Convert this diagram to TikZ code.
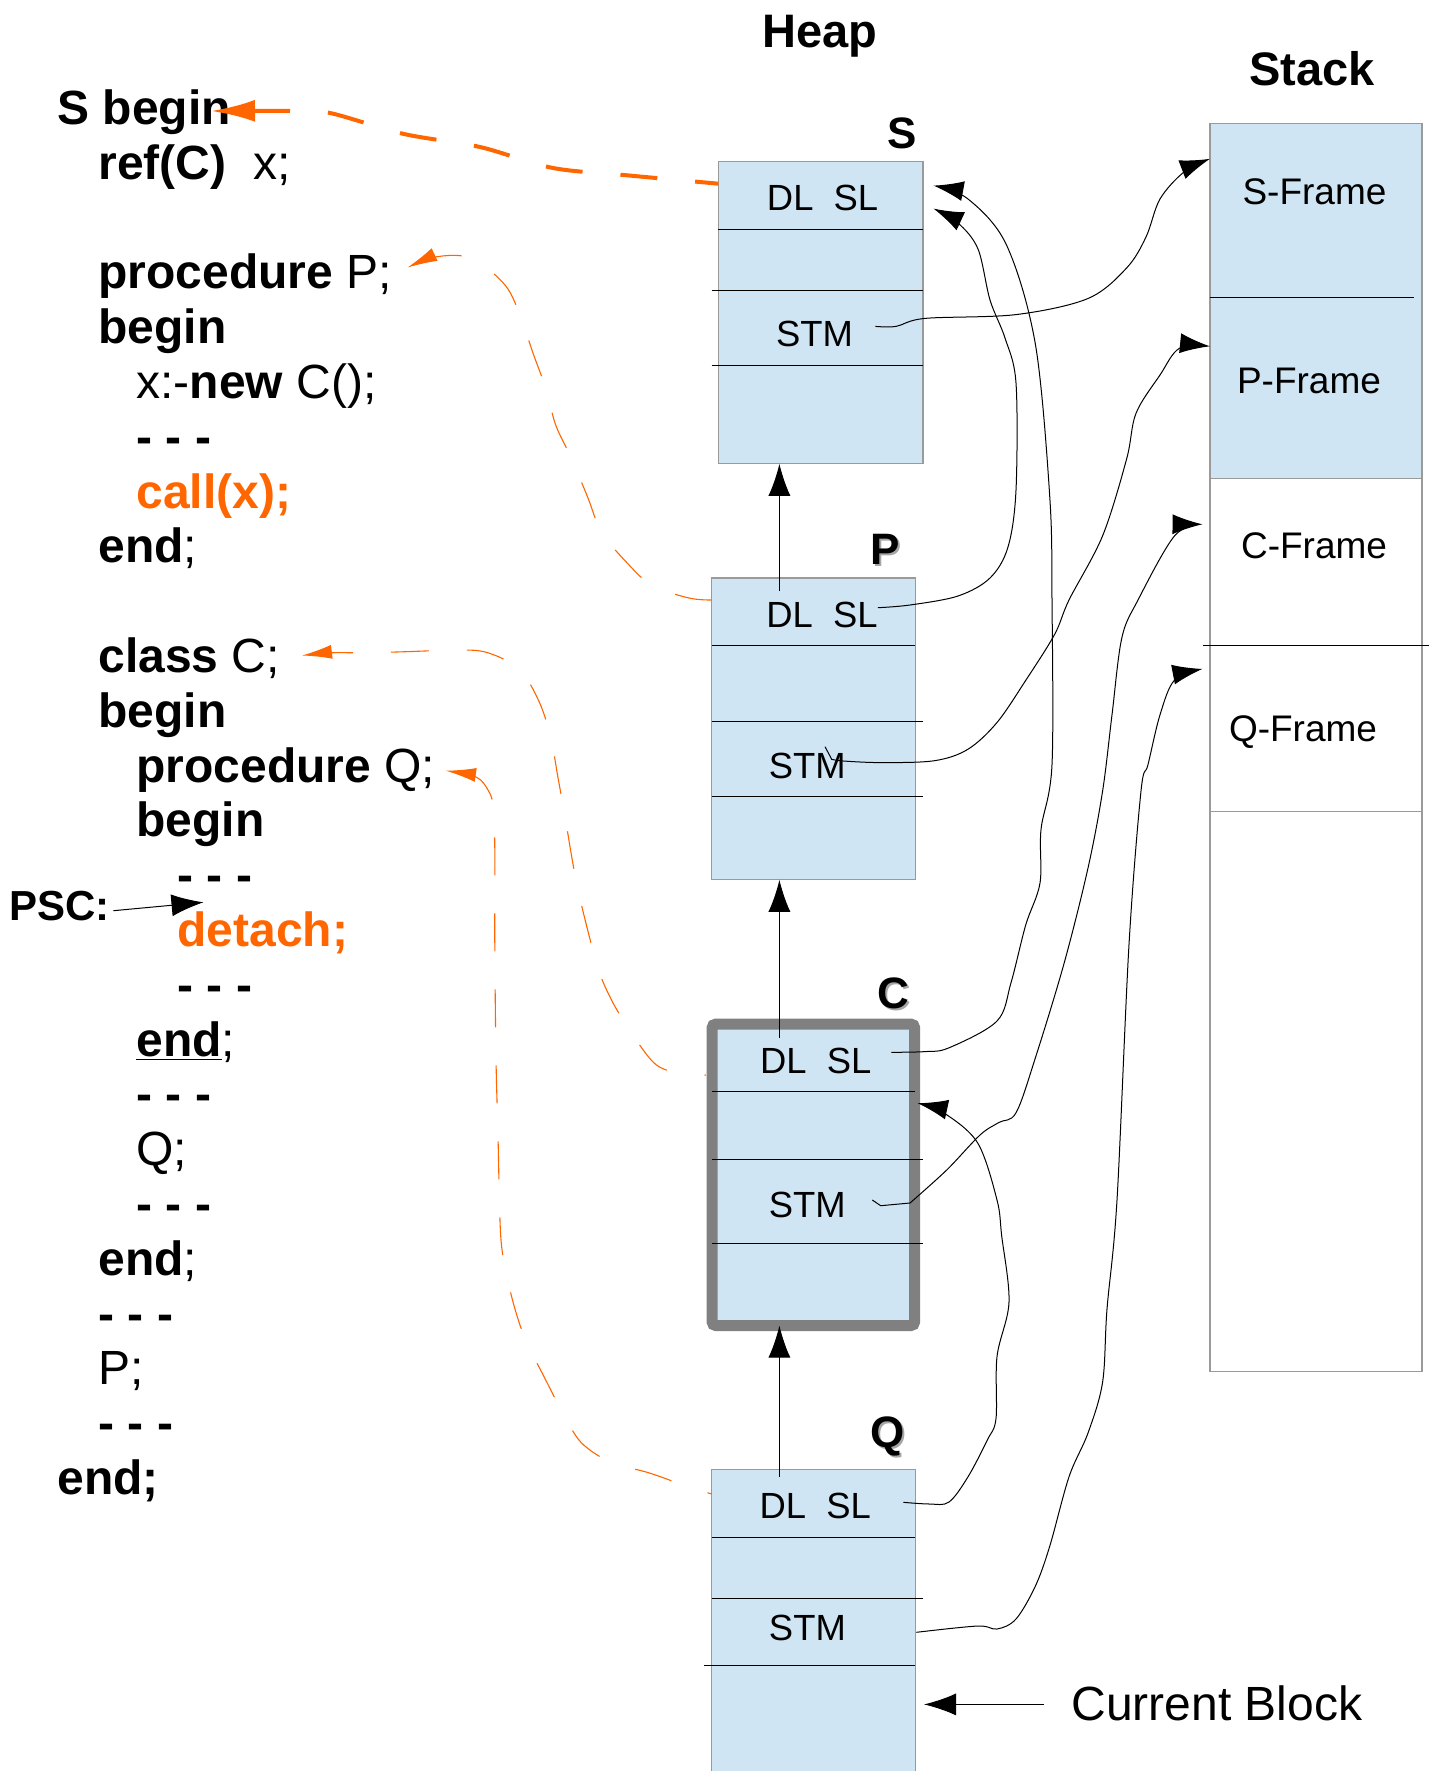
\documentclass[tikz,border=0pt]{standalone}
\usepackage{fontspec}
\setmainfont{Liberation Sans}
\usetikzlibrary{arrows.meta}
\definecolor{orng}{HTML}{FF6600}
\definecolor{boxblue}{HTML}{CFE5F3}
\definecolor{cgray}{HTML}{808080}
\definecolor{lgray}{HTML}{9A9A9A}
\begin{document}
\begin{tikzpicture}[x=0.5pt,y=-0.5pt,
  code/.style={anchor=base west,inner sep=0pt,font=\fontsize{24}{28}\selectfont},
  lbl/.style={anchor=base,inner sep=0pt,font=\fontsize{18.2}{22}\selectfont},
  ttl/.style={anchor=base,inner sep=0pt,font=\bfseries\fontsize{23.5}{28}\selectfont},
  boxlbl/.style={anchor=base,inner sep=0pt,font=\bfseries\fontsize{22}{26}\selectfont},
  shadowlbl/.style={boxlbl,text=black!35},
  heapbox/.style={draw=lgray,fill=boxblue,line width=0.6pt,inner sep=0pt,outer sep=0pt},
  rule/.style={draw=black,line width=0.5pt},
  link/.style={draw=black,line width=0.5pt,-{Latex[length=15pt,width=10pt]}},
  bigarr/.style={draw=black,line width=0.5pt,-{Latex[length=16pt,width=11pt]}},
  odash/.style={draw=orng,line width=0.55pt,dash pattern=on 19pt off 19pt,{Latex[length=15pt,width=7pt]}-},
  othick/.style={draw=orng,line width=2pt,dash pattern=on 18.5pt off 19pt,{Latex[length=22pt,width=11pt]}-}
]
\useasboundingbox (0,0) rectangle (1433,1771);

% ---------- code ----------
\node[code] (c0)  at (57,124.4)  {\textbf{S begin}};
\node[code] (c1)  at (98,179.2)  {\textbf{ref(C)}\ \ x;};
\node[code] (c3)  at (98,288.8)  {\textbf{procedure} P;};
\node[code] (c4)  at (98,343.6)  {\textbf{begin}};
\node[code] (c5)  at (136,398.4) {x:-\textbf{new} C();};
\node[code] (c6)  at (136,453.2) {\textbf{- - -}};
\node[code] (c7)  at (136,508.0) {\textcolor{orng}{\textbf{call(x);}}};
\node[code] (c8)  at (98,562.8)  {\textbf{end};};
\node[code] (c10) at (98,672.4)  {\textbf{class} C;};
\node[code] (c11) at (98,727.2)  {\textbf{begin}};
\node[code] (c12) at (136,782.0) {\textbf{procedure} Q;};
\node[code] (c13) at (136,836.8) {\textbf{begin}};
\node[code] (c14) at (177,891.6) {\textbf{- - -}};
\node[code] (c15) at (177,946.4) {\textcolor{orng}{\textbf{detach;}}};
\node[code] (c16) at (177,1001.2) {\textbf{- - -}};
\node[code] (c17) at (136,1056.0) {\underline{\textbf{end}};};
\node[code] (c18) at (136,1110.8) {\textbf{- - -}};
\node[code] (c19) at (136,1165.6) {Q;};
\node[code] (c20) at (136,1220.4) {\textbf{- - -}};
\node[code] (c21) at (98,1275.2) {\textbf{end};};
\node[code] (c22) at (98,1330.0) {\textbf{- - -}};
\node[code] (c23) at (98,1384.8) {P;};
\node[code] (c24) at (98,1439.6) {\textbf{- - -}};
\node[code] (c25) at (57,1494.4) {\textbf{end;}};

\node[anchor=base west,inner sep=0pt,font=\bfseries\fontsize{21}{25}\selectfont] (psc) at (9,920) {PSC:};
\coordinate (pscout) at (113.3,910.7);
\coordinate (psctip) at (203.5,902.3);
\draw[bigarr] (pscout) -- (psctip);

% ---------- titles ----------
\node[ttl] (heap) at (820,47.8) {Heap};
\node[ttl] (stack) at (1312,86) {Stack};

% ---------- stack ----------
\fill[boxblue] (1210,123.6) rectangle (1422,478.4);
\node[draw=lgray,line width=0.6pt,inner sep=0pt,outer sep=0pt,minimum width=106pt,minimum height=623.8pt] (stk) at (1316,747.4) {};
\draw[rule] (1210,297) -- (1414,297);
\draw[lgray,line width=0.6pt] (1210,478.4) -- (1422,478.4);
\draw[rule] (1203.4,645.2) -- (1429,645.2);
\draw[lgray,line width=0.6pt] (1210,811.6) -- (1422,811.6);
\node[lbl,font=\fontsize{18.5}{22}\selectfont] (sfr) at (1314.5,204.7) {S-Frame};
\node[lbl,font=\fontsize{18.5}{22}\selectfont] (pfr) at (1309,393) {P-Frame};
\node[lbl,font=\fontsize{18.5}{22}\selectfont] (cfr) at (1314,558.7) {C-Frame};
\node[lbl,font=\fontsize{18.5}{22}\selectfont] (qfr) at (1303,741.6) {Q-Frame};
\coordinate (sfin) at (1210,158.8);
\coordinate (pfin) at (1210,346.3);
\coordinate (cfin) at (1202.5,524.3);
\coordinate (qfin) at (1202.5,668.9);

% ---------- heap boxes ----------
\node[heapbox,minimum width=102.3pt,minimum height=151.15pt] (sbox) at (820.7,312.65) {};
\node[heapbox,minimum width=101.8pt,minimum height=150.9pt] (pbox) at (813.5,728.9) {};
\node[heapbox,draw=cgray,line width=5.5pt,rounded corners=2pt,minimum width=101.35pt,minimum height=150.8pt] (cbox) at (813.35,1174.8) {};
\node[heapbox,minimum width=101.8pt,minimum height=155.25pt] (qbox) at (813.5,1624.75) {};

% rules inside boxes
\draw[rule] (718.4,229.6) -- (923,229.6);
\draw[rule] (711.7,290) -- (923,290);
\draw[rule] (711.7,365.5) -- (923,365.5);
\draw[rule] (711.7,645.2) -- (915.3,645.2);
\draw[rule] (711.7,721) -- (923,721);
\draw[rule] (711.7,796.3) -- (923,796.3);
\draw[rule] (711.7,1091) -- (915.3,1091);
\draw[rule] (711.7,1159.5) -- (923,1159.5);
\draw[rule] (711.7,1243) -- (923,1243);
\draw[rule] (711.7,1537.6) -- (915.3,1537.6);
\draw[rule] (711.7,1598.4) -- (923,1598.4);
\draw[rule] (704,1665.8) -- (915.3,1665.8);

% box texts
\node[lbl] (sdl) at (822.6,210.5) {DL\ \ SL};
\node[lbl] (sstm) at (814.5,346.3) {STM};
\node[lbl] (pdl) at (822,627.6) {DL\ \ SL};
\node[lbl] (pstm) at (807.3,778) {STM};
\node[lbl] (cdl) at (815.7,1073.8) {DL\ \ SL};
\node[lbl] (cstm) at (807.3,1217) {STM};
\node[lbl] (qdl) at (815.2,1518.7) {DL\ \ SL};
\node[lbl] (qstm) at (807.4,1640.7) {STM};

% box names
\node[boxlbl] (sname) at (902.6,148.5) {S};
\node[shadowlbl] (pnames) at (887.5,566.5) {P};
\node[boxlbl] (pname) at (885.5,564.5) {P};
\node[shadowlbl] (cnames) at (895.7,1010.7) {C};
\node[boxlbl] (cname) at (893.7,1008.7) {C};
\node[shadowlbl] (qnames) at (889.7,1449.6) {Q};
\node[boxlbl] (qname) at (887.7,1447.6) {Q};

% dynamic links (up arrows)
\coordinate (pup) at (779.4,591);
\coordinate (cup) at (779.4,1038);
\coordinate (qup) at (779.4,1476.8);
\draw[bigarr] (pup) -- (sbox.south -| pup);
\draw[bigarr] (cup) -- (pbox.south -| cup);
\draw[bigarr] (qup) -- (cbox.south -| qup);

% current block
\node[code] (cur) at (1071,1720.8) {Current Block};
\coordinate (curt) at (1043.5,1704.4);
\coordinate (curtip) at (924,1704.4);
\draw[bigarr] (curt) -- (curtip);

% ---------- curved links ----------
\coordinate (sdl1) at (933.5,185.6);
\coordinate (sdl2) at (933.5,208.6);
\coordinate (cin) at (917.7,1103.2);
\coordinate (sstmo) at (875.4,326.4);
\coordinate (pslo) at (877.8,607.7);
\coordinate (pstmo) at (825,746.7);
\coordinate (cslo) at (891.3,1052.3);
\coordinate (cstmo) at (872.3,1200);
\coordinate (qslo) at (903.3,1502.3);
\coordinate (qstmo) at (916.3,1632.3);

\draw[link] plot[smooth,tension=0.55] coordinates {(sstmo) (896,326.4) (925,318.4) (1016,314.6) (1088,298.5) (1126.6,268) (1146,237) (1160,199) (1184,172) (sfin)};
\draw[link] plot[smooth,tension=0.55] coordinates {(pslo) (910,605) (958,596) (990,578) (1008,547) (1016,490) (1016,383) (1005,338) (990,300) (978,249) (958,223) (sdl2)};
\draw[link] plot[smooth,tension=0.55] coordinates {(cslo) (925,1051.6) (949,1047.8) (997,1021) (1011,982.7) (1025.7,925) (1040,883) (1041,829.6) (1052,764.6) (1052,600) (1049.8,497.5) (1035.4,344.4) (1006.5,245) (968,199) (sdl1)};
\draw[link] (pstmo) -- (831.7,759.3) -- plot[smooth,tension=0.55] coordinates {(831.7,759.3) (843.3,761) (881.7,762.6) (934.5,760.7) (968,749.2) (997,722.5) (1025.7,680.4) (1054.6,634.4) (1069,600) (1102.6,535.8) (1126.6,459) (1136,413.3) (1160,375) (1179.4,348.3) (pfin)};
\draw[link] (cstmo) -- (880.7,1205.7) -- (910,1203) -- plot[smooth,tension=0.55] coordinates {(910,1203) (946.7,1170) (980,1135) (999,1122.4) (1016,1112.8) (1035,1059) (1064,963.6) (1088,868) (1102.6,791) (1112,714.8) (1121.8,638) (1138,600) (1174.6,535.8) (cfin)};
\draw[link] plot[smooth,tension=0.55] coordinates {(qslo) (929.7,1504) (949,1502) (968,1476.8) (987.3,1440) (996,1418.5) (997,1356.6) (1009,1302) (1001.7,1236) (997,1200) (977.7,1143) (944,1113) (cin)};
\draw[link] plot[smooth,tension=0.55] coordinates {(qstmo) (977.7,1626) (997,1629) (1016,1619) (1035.4,1586) (1049.8,1546) (1069,1476.8) (1088,1433) (1102.6,1382) (1107,1309) (1117,1200) (1129,944.4) (1141,791) (1148,764.6) (1160,714.8) (1174.6,680) (qfin)};

% ---------- orange dashed links ----------
\coordinate (sbeg) at (211,111);
\coordinate (sboxl) at (718.4,183.7);
\coordinate (ptip) at (407.5,267.5);
\coordinate (pboxl) at (711.7,600);
\coordinate (ctip) at (302,655.5);
\coordinate (cboxl) at (706,1075);
\coordinate (qtip) at (446,770.7);
\coordinate (qboxl) at (711.7,1494);

\draw[othick] plot[smooth,tension=0.5] coordinates {(sbeg) (291.6,111) (330,113) (404,134) (480,147) (553,168) (629,175.5) (sboxl)};
\draw[odash] plot[smooth,tension=0.55] coordinates {(ptip) (437,256.7) (471.7,258.3) (505,285) (521,317.6) (532.6,352) (546.4,390) (555.6,424.8) (571.7,459) (587.8,497.5) (601.5,532) (626.8,562.6) (652,585.5) (689,598) (pboxl)};
\draw[odash] plot[smooth,tension=0.55] coordinates {(ctip) (330.5,652.8) (367,652.8) (406,651.7) (445,650.5) (484,651.7) (518.7,668.9) (539,701.4) (550.8,737.8) (557.7,776) (564.6,814.3) (577.4,887) (596.7,963.6) (610.5,998) (628.8,1028.6) (656.4,1065) (688.5,1074.5) (cboxl)};
\draw[odash] plot[smooth,tension=0.55] coordinates {(qtip) (476,777) (488,790) (493.4,806.7) (494.8,848.7) (494.8,944.4) (496,1059) (498,1135.8) (499.4,1200) (501,1240) (505,1267.4) (514,1305.6) (525.6,1340) (544,1376.6) (561,1409.4) (580.7,1442) (610.5,1462) (649.5,1473) (686,1486) (qboxl)};
\end{tikzpicture}
\end{document}
